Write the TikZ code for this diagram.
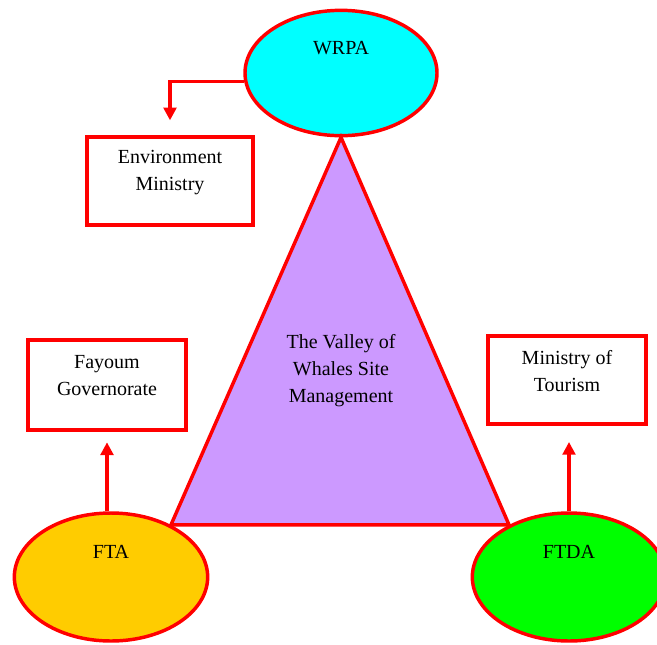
\documentclass[tikz,border=0pt]{standalone}
\usepackage{fontspec}
\setmainfont{Liberation Serif}
\usetikzlibrary{shapes.geometric,arrows.meta,positioning}
\definecolor{wrpacyan}{HTML}{00FFFF}
\definecolor{sitepurple}{HTML}{CC99FF}
\definecolor{ftaorange}{HTML}{FFCC00}
\definecolor{ftdagreen}{HTML}{00FF00}
\definecolor{edgered}{HTML}{FF0000}
\begin{document}
\begin{tikzpicture}[x=0.75pt,y=-0.75pt,
  agency/.style={ellipse,draw=edgered,line width=2.6pt,inner sep=0pt},
  office/.style={rectangle,draw=edgered,line width=3pt,fill=white,inner sep=0pt},
  lbl/.style={align=center,font=\fontsize{15}{20.25}\selectfont},
  link/.style={draw=edgered,line width=2.3pt,-{Triangle[width=9.5pt,length=9.5pt]}}]
  \useasboundingbox (0,0) rectangle (657,644);
  \clip (0,0) rectangle (657,644);
  \node[agency,fill=wrpacyan,minimum width=144pt,minimum height=94pt] (wrpa) at (341,73) {};
  \node[agency,fill=ftaorange,minimum width=145pt,minimum height=96pt] (fta) at (111,577) {};
  \node[agency,fill=ftdagreen,minimum width=145pt,minimum height=96pt] (ftda) at (569,577) {};
  \draw[edgered,line width=2.6pt,line join=miter,fill=sitepurple] (wrpa.south) -- (fta.41) -- (ftda.139) -- cycle;
  \node[lbl] (site) at (341,371) {The Valley of\\Whales Site\\Management};
  \node[lbl] (wrpatext) at ([yshift=19pt]wrpa.center) {WRPA};
  \node[lbl] (ftatext) at ([yshift=19pt]fta.center) {FTA};
  \node[lbl] (ftdatext) at ([yshift=19pt]ftda.center) {FTDA};
  \node[office,minimum width=124pt,minimum height=66pt] (env) at (170,181) {};
  \node[office,minimum width=119pt,minimum height=67pt] (fay) at (107,385) {};
  \node[office,minimum width=119pt,minimum height=66pt] (mot) at (567,380) {};
  \node[lbl] (envtext) at ([yshift=6.4pt]env.center) {Environment\\Ministry};
  \node[lbl] (faytext) at ([yshift=7pt]fay.center) {Fayoum\\Governorate};
  \node[lbl] (mottext) at ([yshift=7pt]mot.center) {Ministry of\\Tourism};
  \draw[link] (wrpa.185) -| ([yshift=11pt]env.north);
  \draw[link] (fay.south |- fta.north) -- ([yshift=-8pt]fay.south);
  \draw[link] (ftda.north) -- ([yshift=-12pt]ftda.north |- mot.south);
\end{tikzpicture}
\end{document}
